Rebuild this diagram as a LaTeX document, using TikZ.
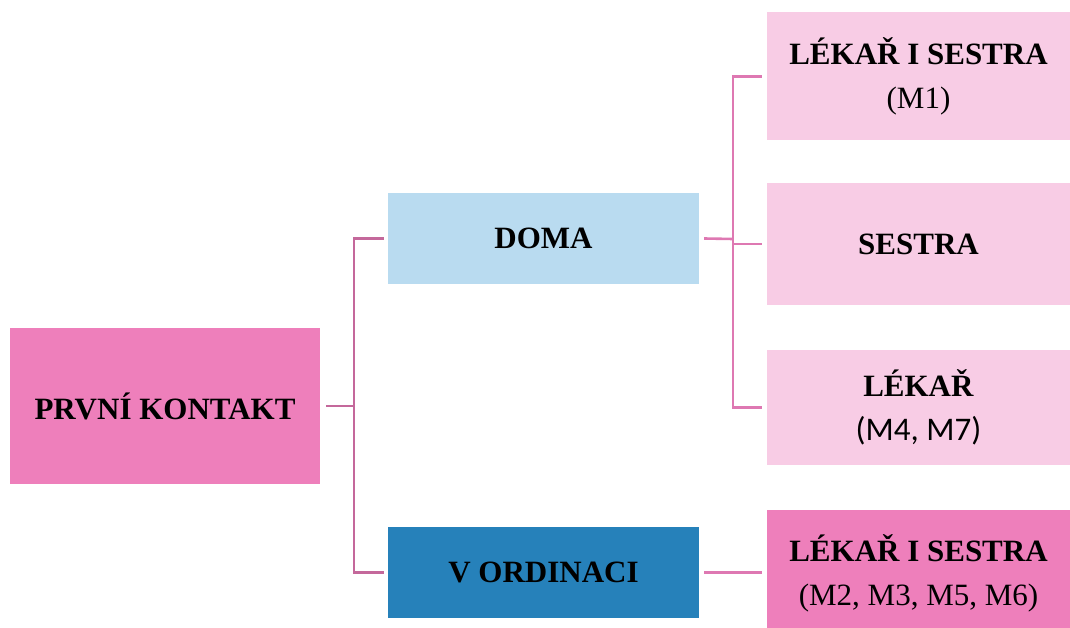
\documentclass[tikz,border=0pt]{standalone}
\usepackage{fontspec}
\setmainfont{Liberation Serif}
\newfontfamily\calibrilike{Carlito}
\definecolor{pinkdark}{HTML}{EE7FBB}
\definecolor{pinklight}{HTML}{F8CCE5}
\definecolor{bluelight}{HTML}{B9DBF0}
\definecolor{bluedark}{HTML}{2681BA}
\definecolor{linkL}{HTML}{C4689B}
\definecolor{linkR}{HTML}{DE78B2}
\tikzset{
  box/.style={rectangle, inner sep=0pt, align=center,
    font=\fontsize{31}{44}\selectfont, text=black},
  conn/.style={line width=2.6pt},
}
\begin{document}
\begin{tikzpicture}[x=1pt,y=-1pt]
\useasboundingbox (0,0) rectangle (1070,628);

% root
\node[box, fill=pinkdark, minimum width=310pt, minimum height=156pt]
  (pk) at (165,406) {\textbf{PRVNÍ KONTAKT}};

% second level
\node[box, fill=bluelight, minimum width=311pt, minimum height=91pt]
  (doma) at (543.5,238.5) {\textbf{DOMA}};
\node[box, fill=bluedark, minimum width=311pt, minimum height=91pt]
  (ord) at (543.5,572.5) {\textbf{V ORDINACI}};

% third level
\node[box, fill=pinklight, minimum width=303pt, minimum height=128pt]
  (ls) at (918.5,76.5) {\textbf{LÉKAŘ I SESTRA}\\(M1)};
\node[box, fill=pinklight, minimum width=303pt, minimum height=122pt]
  (ses) at (918.5,244) {\textbf{SESTRA}};
\node[box, fill=pinklight, minimum width=303pt, minimum height=115pt]
  (lek) at (918.5,407.5) {\textbf{LÉKAŘ}\\{\calibrilike\fontsize{33}{44}\selectfont(M4, M7)}};
\node[box, fill=pinkdark, minimum width=303pt, minimum height=126pt]
  (lso) at (918.5,573) {\textbf{LÉKAŘ I SESTRA}\\(M2, M3, M5, M6)};

% junction points of the brackets
\coordinate (jL) at (354,406);
\coordinate (jR) at (733,239);

% root -> second level
\draw[conn, linkL] ([xshift=6pt]pk.east) -- (jL);
\draw[conn, linkL] ([xshift=-4pt]doma.west) -| (jL) |- ([xshift=-4pt]ord.west);

% DOMA -> third level
\draw[conn, linkR] ([xshift=5pt]doma.east) -- (jR);
\draw[conn, linkR] ([xshift=-5pt]ls.west) -| (jR) |- ([xshift=-5pt]lek.west);
\draw[conn, linkR] (jR |- ses.west) -- ([xshift=-5pt]ses.west);

% V ORDINACI -> third level
\draw[conn, linkR] ([xshift=5pt]ord.east) -- ([xshift=-5pt]ord.east -| lso.west);
\end{tikzpicture}
\end{document}
